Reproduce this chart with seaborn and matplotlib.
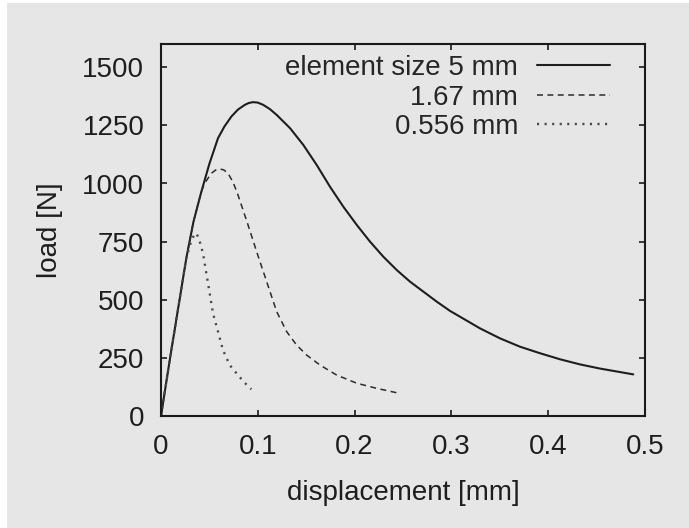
import numpy as np
import pandas as pd
import matplotlib
matplotlib.use("Agg")
import matplotlib.pyplot as plt
import seaborn as sns
from matplotlib.patches import Rectangle

sns.set_theme(style="ticks")
plt.rcParams['font.family'] = ['Liberation Sans', 'DejaVu Sans']

# load-displacement curves
x_5mm = [0, 0.009, 0.0262, 0.0335, 0.0417, 0.05, 0.0589, 0.0655, 0.0727, 0.0795,
         0.0865, 0.0905, 0.095, 0.1, 0.1057, 0.1125, 0.1195, 0.1333, 0.147,
         0.1608, 0.1746, 0.1884, 0.2022, 0.2159, 0.2297, 0.2435, 0.2572, 0.271,
         0.2848, 0.2986, 0.3089, 0.3295, 0.3502, 0.3709, 0.3915, 0.4122, 0.4328,
         0.4535, 0.4742, 0.4879]
y_5mm = [0, 240, 680, 835, 965, 1085, 1195, 1245, 1288, 1318,
         1338, 1346, 1350, 1348, 1338, 1320, 1295, 1238, 1166,
         1080, 986, 900, 822, 750, 685, 628, 578, 535,
         492, 452, 427, 377, 334, 298, 270, 244, 222,
         204, 189, 179]

x_167 = [0, 0.009, 0.0262, 0.0335, 0.0417, 0.0451, 0.052, 0.0565, 0.0606, 0.065,
         0.0692, 0.0745, 0.0795, 0.0899, 0.0988, 0.1057, 0.1126, 0.1195, 0.1298,
         0.1401, 0.1505, 0.1643, 0.1815, 0.2022, 0.2228, 0.2435]
y_167 = [0, 240, 680, 835, 965, 1001, 1044, 1058, 1063, 1058,
         1044, 1005, 951, 822, 707, 621, 535, 449, 363,
         305, 262, 219, 176, 141, 119, 100]

x_0556 = [0, 0.009, 0.0262, 0.031, 0.0345, 0.0365, 0.039, 0.0434, 0.0468, 0.0503,
          0.0537, 0.0589, 0.064, 0.071, 0.0795, 0.0864, 0.0933]
y_0556 = [0, 240, 680, 750, 782, 786, 765, 700, 614, 528,
          442, 363, 284, 219, 176, 143, 115]

labels = ["element size 5 mm", "1.67 mm", "0.556 mm"]

df = pd.concat([
    pd.DataFrame({"x": x_5mm, "y": y_5mm, "series": labels[0]}),
    pd.DataFrame({"x": x_167, "y": y_167, "series": labels[1]}),
    pd.DataFrame({"x": x_0556, "y": y_0556, "series": labels[2]}),
])

bg = "#e6e6e6"
fs = 20
fig = plt.figure(figsize=(6.89, 5.28), dpi=100, facecolor="white")
fig.patches.append(Rectangle((7 / 689, 0), 1, 1 - 3 / 528, transform=fig.transFigure,
                             facecolor=bg, edgecolor="none", zorder=-10))
ax = fig.add_axes([161 / 689, 112 / 528, 484 / 689, 372 / 528])
ax.set_facecolor(bg)

sns.lineplot(data=df, x="x", y="y", hue="series", style="series",
             hue_order=labels, style_order=labels,
             palette=["#1e1e1e", "#2c2c2c", "#4a4a4a"],
             dashes={labels[0]: "", labels[1]: (3.9, 2.9), labels[2]: (0.9, 2.3)},
             sort=False, estimator=None, legend=False, ax=ax)

for line, lw in zip(ax.lines, [1.5, 1.1, 1.7]):
    line.set_linewidth(lw)

ax.set_xlim(0, 0.5)
ax.set_ylim(0, 1600)
ax.set_xticks([0, 0.1, 0.2, 0.3, 0.4, 0.5])
ax.set_xticklabels(["0", "0.1", "0.2", "0.3", "0.4", "0.5"])
ax.set_yticks([0, 250, 500, 750, 1000, 1250, 1500])

for s in ax.spines.values():
    s.set_visible(True)
    s.set_linewidth(1.5)
    s.set_color("#1a1a1a")
ax.tick_params(direction="in", length=4, width=1.2, color="#1a1a1a",
               top=True, right=True, labelsize=fs, labelcolor="#1e1e1e")
ax.tick_params(axis="x", pad=13)
ax.tick_params(axis="y", pad=12)

ax.set_xlabel("displacement [mm]", fontsize=fs, color="#1e1e1e", labelpad=14)
ax.set_ylabel("load [N]", fontsize=fs, color="#1e1e1e", labelpad=14)

ax.legend(ax.lines, labels, loc="upper right", bbox_to_anchor=(449 / 484, 1 - 11 / 372),
          frameon=False, markerfirst=False, fontsize=fs, handlelength=2.63,
          handletextpad=0.68, labelspacing=0.13, borderpad=0, borderaxespad=0)

fig.savefig("out.png", dpi=100, facecolor=fig.get_facecolor())
